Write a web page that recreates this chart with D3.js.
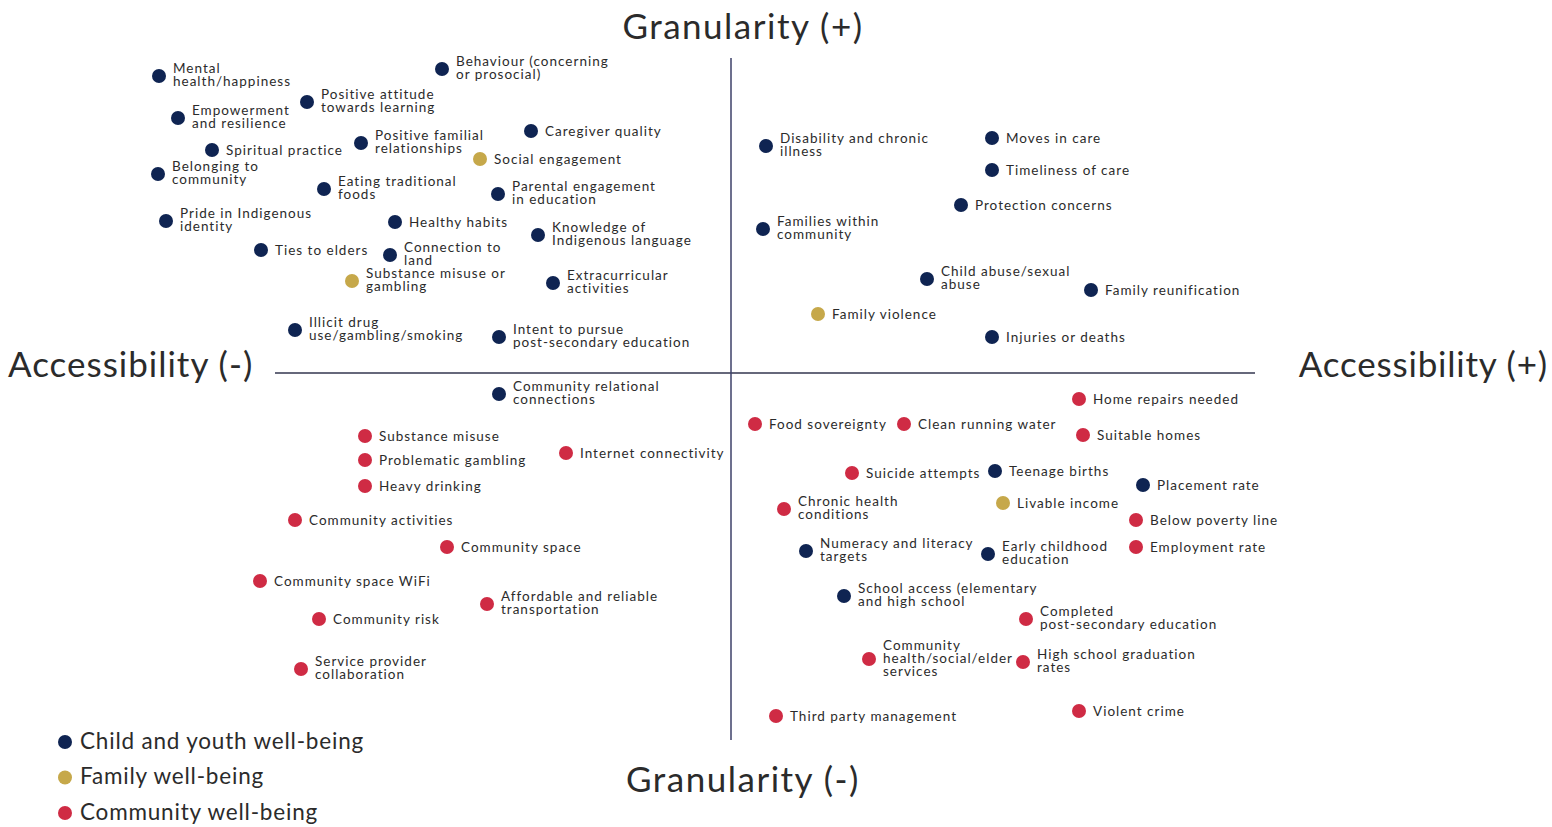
<!DOCTYPE html>
<html>
<head>
<meta charset="utf-8">
<script src="https://d3js.org/d3.v7.min.js"></script>
<style>
  body { margin: 0; background: #fff; }
  svg text { font-family: Lato, "Noto Sans", sans-serif; fill: #2b2b2b; }
</style>
</head>
<body>
<svg id="chart" width="1552" height="827"></svg>
<script>
// categories of the legend
const categories = ["Child and youth well-being", "Family well-being", "Community well-being"];

// indicator labels ("\n" = line break in the label)
const labels = [
  "Mental\nhealth/happiness", "Behaviour (concerning\nor prosocial)", "Positive attitude\ntowards learning",
  "Empowerment\nand resilience", "Positive familial\nrelationships", "Caregiver quality",
  "Spiritual practice", "Social engagement", "Belonging to\ncommunity",
  "Eating traditional\nfoods", "Parental engagement\nin education", "Pride in Indigenous\nidentity",
  "Healthy habits", "Knowledge of\nIndigenous language", "Ties to elders",
  "Connection to\nland", "Substance misuse or\ngambling", "Extracurricular\nactivities",
  "Illicit drug\nuse/gambling/smoking", "Intent to pursue\npost-secondary education",
  "Disability and chronic\nillness", "Moves in care", "Timeliness of care",
  "Protection concerns", "Families within\ncommunity", "Child abuse/sexual\nabuse",
  "Family reunification", "Family violence", "Injuries or deaths",
  "Community relational\nconnections", "Substance misuse", "Problematic gambling",
  "Heavy drinking", "Internet connectivity", "Community activities",
  "Community space", "Community space WiFi", "Community risk",
  "Affordable and reliable\ntransportation", "Service provider\ncollaboration",
  "Home repairs needed", "Food sovereignty", "Clean running water",
  "Suitable homes", "Suicide attempts", "Teenage births",
  "Placement rate", "Chronic health\nconditions", "Livable income",
  "Below poverty line", "Numeracy and literacy\ntargets", "Early childhood\neducation",
  "Employment rate", "School access (elementary\nand high school", "Completed\npost-secondary education",
  "Community\nhealth/social/elder\nservices", "High school graduation\nrates", "Third party management",
  "Violent crime"
];

// accessibility (-/+) value of each indicator
const accessibility = [
  -57.2, -28.9, -42.4, -55.3, -37.0, -20.0, -51.9, -25.1, -57.3, -40.7,
  -23.3, -56.5, -33.6, -19.3, -47.0, -34.1, -37.9, -17.8, -43.6, -23.2,
  3.5, 26.1, 26.1, 23.0, 3.2, 19.6, 36.0, 8.7, 26.1,
  -23.2, -36.6, -36.6, -36.6, -16.5, -43.6, -28.4, -47.1, -41.2, -24.4, -43.0,
  34.8, 2.4, 17.3, 35.2, 12.1, 26.4, 41.2, 5.3, 27.2, 40.5,
  7.5, 25.7, 40.5, 11.3, 29.5, 13.8, 29.2, 4.5, 34.8
];

// granularity (-/+) value of each indicator
const granularity = [
  29.7, 30.4, 27.1, 25.5, 23.0, 24.2, 22.3, 21.4, 19.9, 18.4,
  17.9, 15.2, 15.1, 13.8, 12.3, 11.8, 9.2, 9.0, 4.3, 3.6,
  22.7, 23.5, 20.3, 16.8, 14.4, 9.4, 8.3, 5.9, 3.6,
  -2.1, -6.3, -8.7, -11.3, -8.0, -14.7, -17.4, -20.8, -24.6, -23.1, -29.6,
  -2.6, -5.1, -5.1, -6.2, -10.0, -9.8, -11.2, -13.6, -13.0, -14.7,
  -17.8, -18.1, -17.4, -22.3, -24.6, -28.6, -28.9, -34.3, -33.8
];

// category index of each indicator (0 child/youth, 1 family, 2 community)
const groups = [
  0, 0, 0, 0, 0, 0, 0, 1, 0, 0,
  0, 0, 0, 0, 0, 0, 1, 0, 0, 0,
  0, 0, 0, 0, 0, 0, 0, 1, 0,
  0, 2, 2, 2, 2, 2, 2, 2, 2, 2, 2,
  2, 2, 2, 2, 2, 0, 0, 2, 1, 2,
  0, 0, 2, 0, 2, 2, 2, 2, 2
];

const colors = ["#0f2452", "#c6a84a", "#cf2b44"];

const svg = d3.select("#chart");
const x = d3.scaleLinear().domain([-60, 60]).range([131, 1331]);
const y = d3.scaleLinear().domain([-40, 40]).range([773, -27]);

// quadrant lines
svg.append("line")
  .attr("x1", x(-45.6)).attr("x2", x(52.4))
  .attr("y1", y(0)).attr("y2", y(0))
  .attr("stroke", "#33364f").attr("stroke-width", 1.5);
svg.append("line")
  .attr("x1", x(0)).attr("x2", x(0))
  .attr("y1", y(31.5)).attr("y2", y(-36.7))
  .attr("stroke", "#3c4068").attr("stroke-width", 1.5);

// axis titles
function title(tx, ty, anchor, s, ls) {
  svg.append("text").attr("x", tx).attr("y", ty).attr("text-anchor", anchor)
    .attr("dominant-baseline", "middle")
    .style("font-size", "35px").style("letter-spacing", ls + "px").text(s);
}
title(x(0) + 12, 30, "middle", "Granularity (+)", 1.5);
title(x(0) + 12, 783, "middle", "Granularity (-)", 1.5);
title(8, y(0) - 5, "start", "Accessibility (-)", 1.0);
title(1548, y(0) - 5, "end", "Accessibility (+)", 0.8);

// points
const points = labels.map((l, i) => ({
  lines: l.split("\n"), a: accessibility[i], g: granularity[i], c: groups[i]
}));

const pt = svg.append("g").selectAll("g").data(points).join("g")
  .attr("transform", d => `translate(${x(d.a)},${y(d.g)})`);

pt.append("circle").attr("r", 7).attr("fill", d => colors[d.c]);

const lh = 13;
pt.append("text")
  .style("font-size", "13.5px").style("letter-spacing", "1px")
  .selectAll("tspan").data(d => d.lines.map((s, k) => ({ s, k, n: d.lines.length })))
  .join("tspan")
  .attr("x", 14)
  .attr("y", t => (t.k - (t.n - 1) / 2) * lh + (t.n === 1 ? 2 : 0.5))
  .attr("dominant-baseline", "middle")
  .text(t => t.s);

// legend
const lg = svg.append("g").selectAll("g").data(categories).join("g")
  .attr("transform", (d, i) => `translate(65,${742 + i * 35.5})`);
lg.append("circle").attr("r", 7).attr("fill", (d, i) => colors[i]);
lg.append("text").attr("x", 15).attr("y", 1).attr("dominant-baseline", "middle")
  .style("font-size", "22.5px").style("letter-spacing", "0.8px").text(d => d);
</script>
</body>
</html>
